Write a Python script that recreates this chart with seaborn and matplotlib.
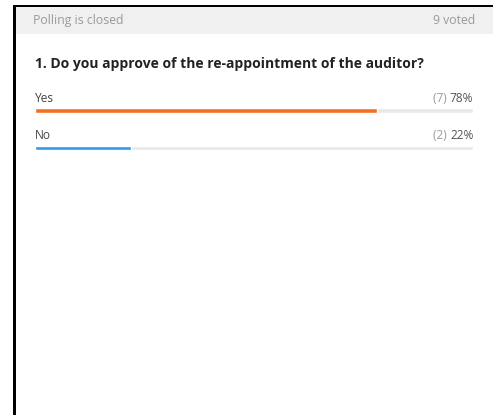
import matplotlib
matplotlib.use("Agg")
import matplotlib.pyplot as plt
import seaborn as sns
import pandas as pd
from matplotlib.patches import Rectangle

# poll data
options = ["Yes", "No"]
votes = [7, 2]
percents = [78, 22]
bar_colors = ["#F07126", "#2E9BEF"]
total_label = "9 voted"
status_label = "Polling is closed"
question = "1. Do you approve of the re-appointment of the auditor?"

df = pd.DataFrame({"option": options, "percent": percents, "votes": votes})

sns.set_style("white")
plt.rcParams["font.family"] = ["Open Sans", "DejaVu Sans"]

W, H = 493, 415
fig = plt.figure(figsize=(W / 100 + 0.004, H / 100 + 0.004), dpi=100)
fig.patch.set_facecolor("white")
fig.patch.set_edgecolor("white")

# frame and header strip (pixel coords -> figure fraction)
def px(x, y, w, h):
    return (x / W, 1 - (y + h) / H, w / W, h / H)

def box(x, y, w, h, color, z):
    r = Rectangle(px(x, y, w, h)[:2], w / W, h / H, transform=fig.transFigure,
                  facecolor=color, edgecolor="none", linewidth=0, zorder=z)
    fig.add_artist(r)

box(16, 7, 477, 27, "#F0F0F0", 0)
box(13, 5, 480, 2, "black", 1)
box(13, 5, 3, 410, "black", 1)
# keep the right edge white
box(486, 34, 7, 381, "white", 5)

fig.text(33 / W, 1 - 20.5 / H, status_label, ha="left", va="center",
         fontsize=8.8, color="#9A9A9A")
fig.text(475 / W, 1 - 20.5 / H, total_label, ha="right", va="center",
         fontsize=8.8, color="#9A9A9A")
fig.text(35 / W, 1 - 64 / H, question, ha="left", va="center",
         fontsize=10, fontweight="bold", color="#222222")

# bar axes only over the bar area: x 35..473 px, y 80..160 px
top_px, bot_px = 80, 160
ax = fig.add_axes(px(35, top_px, 438, bot_px - top_px))
step = 37.5
first = 111
ylim = ((bot_px - first) / step, -(first - top_px) / step)

bh_ = 4.5 / step
ax.barh(df["option"], [100] * len(df), height=bh_, color="#E9E9E9", zorder=1)
sns.barplot(data=df, y="option", x="percent", hue="option",
            palette=bar_colors, orient="h", width=bh_, legend=False,
            errorbar=None, ax=ax, zorder=2, saturation=1)

for i, row in df.iterrows():
    ax.text(0, i - 13 / step, row["option"], ha="left", va="center",
            fontsize=8.6, color="#444444")
    t = ax.text(100, i - 13 / step, f"{row['percent']}%", ha="right",
                va="center", fontsize=8.6, color="#555555")
    ax.annotate(f"({row['votes']}) ", xy=(0, 0.5), xycoords=t,
                ha="right", va="center", fontsize=8.6, color="#9A9A9A")

ax.set_xlim(0, 100)
ax.set_ylim(*ylim)
ax.axis("off")

fig.savefig("out.png", dpi=100, facecolor="white", edgecolor="white")
